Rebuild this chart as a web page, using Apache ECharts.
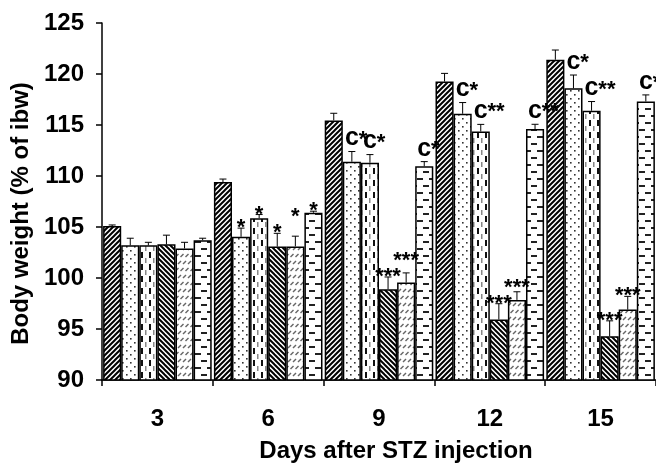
<!DOCTYPE html>
<html><head><meta charset="utf-8">
<script src="https://cdn.jsdelivr.net/npm/echarts@6/dist/echarts.min.js"></script>
<style>html,body{margin:0;padding:0;background:#fff}#c{width:656px;height:468px}</style>
</head><body><div id="c"></div>
<script>
// ---- data ----
const categories = ['3', '6', '9', '12', '15'];
const yTicks = [90, 95, 100, 105, 110, 115, 120, 125];
const s1 = [105.1, 109.4, 115.45, 119.26, 121.4];
const s2 = [103.2, 104.04, 111.4, 116.1, 118.6];
const s3 = [103.2, 105.87, 111.3, 114.36, 116.4];
const s4 = [103.3, 103.08, 98.9, 95.93, 94.3];
const s5 = [102.9, 103.1, 99.55, 97.85, 96.9];
const s6 = [103.7, 106.4, 110.96, 114.6, 117.3];
const e1 = [0.1, 0.3, 0.7, 0.8, 0.95];
const e2 = [0.7, 0.85, 1.0, 1.1, 1.3];
const e3 = [0.3, 0.35, 0.8, 0.7, 0.9];
const e4 = [0.9, 1.3, 1.2, 1.55, 1.5];
const e5 = [0.6, 1.0, 0.95, 0.8, 1.3];
const e6 = [0.2, 0.15, 0.45, 0.47, 0.65];
const l1 = ['', '', '', '', ''];
const l2 = ['', '*', 'c*', 'c*', 'c*'];
const l3 = ['', '*', 'c*', 'c**', 'c**'];
const l4 = ['', '*', '***', '***', '***'];
const l5 = ['', '*', '***', '***', '***'];
const l6 = ['', '*', 'c*', 'c**', 'c*'];

const values = [s1, s2, s3, s4, s5, s6];
const errors = [e1, e2, e3, e4, e5, e6];
const labels = [l1, l2, l3, l4, l5, l6];

// ---- patterns ----
function tile(w, h, draw) {
  const c = document.createElement('canvas');
  c.width = w; c.height = h;
  const g = c.getContext('2d');
  g.fillStyle = '#fff'; g.fillRect(0, 0, w, h);
  draw(g);
  return c;
}
function hatch(dir) {
  const P = 5;
  return tile(P, P, g => {
    g.strokeStyle = '#000'; g.lineWidth = 2.0; g.lineCap = 'square';
    for (let k = -1; k <= 1; k++) {
      g.beginPath();
      if (dir > 0) { g.moveTo(-2, P + 2 + k * P); g.lineTo(P + 2, -2 + k * P); }
      else { g.moveTo(-2, -2 + k * P); g.lineTo(P + 2, P + 2 + k * P); }
      g.stroke();
    }
  });
}
function slashes(g, pts) {
  g.strokeStyle = '#666'; g.lineWidth = 1.5;
  pts.forEach(([x, y]) => { g.beginPath(); g.moveTo(x, y + 3); g.lineTo(x + 3, y); g.stroke(); });
}
const pats = [
  hatch(1),
  tile(8, 8, g => { g.fillStyle = '#333'; g.fillRect(2, 2, 1.6, 1.6); g.fillRect(6, 6, 1.6, 1.6); }),
  tile(8, 12, g => { g.fillStyle = '#111'; g.fillRect(5, 0, 2, 6); g.fillStyle = '#888'; g.fillRect(1, 6, 1.5, 5); }),
  hatch(-1),
  tile(10, 14, g => slashes(g, [[0.5, 2], [5.5, 2], [3, 9], [8, 9], [-2, 9]])),
  tile(12, 14, g => { g.fillStyle = '#222'; g.fillRect(3, 3, 6, 2); g.fillRect(9, 10, 6, 2); g.fillRect(-3, 10, 6, 2); })
];

const GAP = 0.02;
const FONT = 'Liberation Sans, Arial, sans-serif';

const barSeries = values.map((vals, i) => ({
  type: 'bar',
  data: vals,
  barGap: '0%',
  barCategoryGap: (GAP * 100) + '%',
  itemStyle: { color: { image: pats[i], repeat: 'repeat' }, borderColor: '#000', borderWidth: 1.5 },
  emphasis: { disabled: true },
  z: 2
}));

const errData = [];
values.forEach((vals, si) => vals.forEach((v, ci) => errData.push([ci, si, v, errors[si][ci]])));

function labelBase(api, ci, si) {
  const errTop = api.coord([ci, values[si][ci] + errors[si][ci]])[1];
  const lab = labels[si][ci];
  if (!lab) return null;
  if (lab[0] === 'c') return errTop - 5;
  return errTop + 7;
}

const errSeries = {
  type: 'custom',
  data: errData,
  z: 5,
  renderItem(params, api) {
    const ci = api.value(0), si = api.value(1), v = api.value(2), se = api.value(3);
    const band = api.size([1, 0])[0];
    const bw = band * (1 - GAP) / 6;
    const cx = api.coord([ci, 0])[0] + (si - 2.5) * bw;
    const yTop = api.coord([ci, v])[1];
    const yErr = api.coord([ci, v + se])[1];
    const children = [
      { type: 'line', shape: { x1: cx, y1: yTop, x2: cx, y2: yErr }, style: { stroke: '#000', lineWidth: 1 } },
      { type: 'line', shape: { x1: cx - 3.5, y1: yErr, x2: cx + 3.5, y2: yErr }, style: { stroke: '#000', lineWidth: 1 } }
    ];
    const lab = labels[si][ci];
    if (lab) {
      let base = labelBase(api, ci, si);
      if (si > 0 && labels[si - 1][ci] === lab && lab[0] !== 'c') {
        const prev = labelBase(api, ci, si - 1);
        if (Math.abs(prev - base) < 12) base = prev - 16;
      }
      if (lab[0] === 'c') {
        children.push({
          type: 'text',
          style: { text: 'c', x: cx, y: base - 8, align: 'center', verticalAlign: 'middle',
                   font: 'bold 25px ' + FONT, fill: '#000' }
        });
        children.push({
          type: 'text',
          style: { text: lab.slice(1), x: cx + 6.8, y: base - 7, align: 'left', verticalAlign: 'middle',
                   font: 'bold 22px ' + FONT, fill: '#000' }
        });
      } else {
        children.push({
          type: 'text',
          style: { text: lab, x: cx, y: base - 7, align: 'center', verticalAlign: 'middle',
                   font: 'bold 22px ' + FONT, fill: '#000' }
        });
      }
    }
    return { type: 'group', children };
  }
};

const chart = echarts.init(document.getElementById('c'), null, { renderer: 'canvas' });
chart.setOption({
  animation: false,
  backgroundColor: '#fff',
  grid: { left: 102, top: 23, width: 557.5, height: 363.5, containLabel: false },
  xAxis: {
    type: 'category', data: categories,
    name: 'Days after STZ injection', nameLocation: 'middle', nameGap: 59,
    nameTextStyle: { fontFamily: FONT, fontWeight: 'bold', fontSize: 24, color: '#000', padding: [0, 0, 0, 34] },
    axisLine: { lineStyle: { color: '#000', width: 1.5 } },
    axisTick: { show: true, length: 6, lineStyle: { color: '#000', width: 1.5 } },
    axisLabel: { fontFamily: FONT, fontWeight: 'bold', fontSize: 24, color: '#000', margin: 27 }
  },
  yAxis: {
    type: 'value', min: yTicks[0], max: yTicks[yTicks.length - 1], interval: 5,
    name: 'Body weight (% of ibw)', nameLocation: 'middle', nameGap: 64, nameRotate: 90,
    nameTextStyle: { fontFamily: FONT, fontWeight: 'bold', fontSize: 24, color: '#000', padding: [0, 24, 0, 0] },
    axisLine: { show: true, lineStyle: { color: '#000', width: 1.5 } },
    axisTick: { show: true, length: 6, lineStyle: { color: '#000', width: 1.5 } },
    splitLine: { show: false },
    axisLabel: { fontFamily: FONT, fontWeight: 'bold', fontSize: 24, color: '#000', margin: 18 }
  },
  series: [...barSeries, errSeries]
});
</script></body></html>
